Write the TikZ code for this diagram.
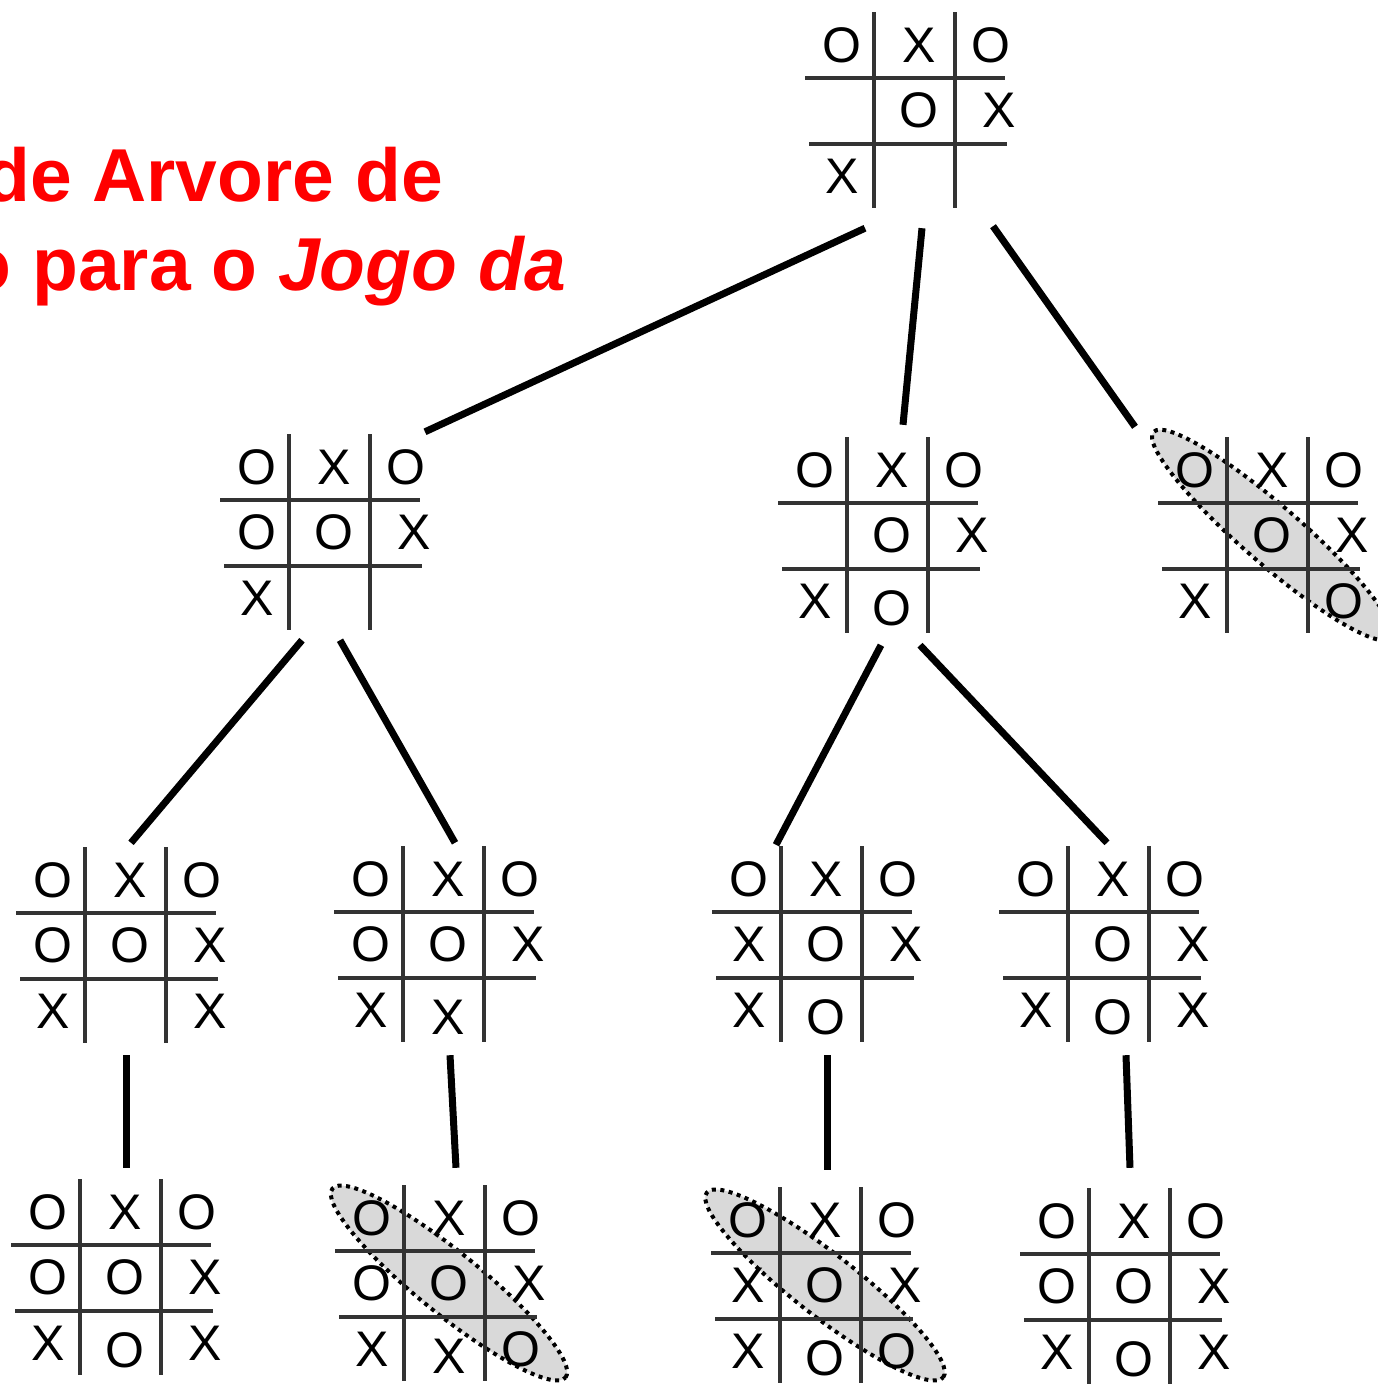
\documentclass[tikz,border=0pt]{standalone}
\usepackage{fontspec}
\setmainfont{Liberation Sans}
\usetikzlibrary{shapes.geometric}

% one board: #1 name, #2 x of left grid line, #3 y of top grid line, #4 marks (mark/col/row)
\newcommand{\tttboard}[4]{%
  \node[boardbox] (#1) at (#2+31,#3+32) {};
  \draw[gridline] (#2,#3-66) -- (#2,#3+130);
  \draw[gridline] (#2+81,#3-66) -- (#2+81,#3+130);
  \draw[gridline] (#2-69,#3) -- (#2+131,#3);
  \draw[gridline] (#2-65,#3+66) -- (#2+133,#3+66);
  \foreach \mk/\col/\row in {#4} {
    \pgfmathsetmacro\dx{{-32,45,117}[\col-1]}
    \pgfmathsetmacro\dy{{-33,32,98}[\row-1]+7*(\col==2)*(\row==3)}
    \def\ex{0}\if\mk X\ifnum\col=3 \def\ex{8}\fi\fi
    \node[cellmark] (#1-\col\row) at ({#2+\dx+\ex},{#3+\dy}) {\mk};
  }
}

\begin{document}
\begin{tikzpicture}[
    x=1pt, y=-1pt,
    gridline/.style={line width=3.4pt, black!80},
    cellmark/.style={inner sep=0pt, font=\fontsize{50}{50}\selectfont},
    boardbox/.style={rectangle, inner sep=0pt, minimum width=200pt, minimum height=196pt},
    treeline/.style={line width=7pt},
    hilite/.style={ellipse, draw, fill=black!15, line width=4pt, dash pattern=on 4pt off 4.5pt, inner sep=0pt},
    title/.style={inner sep=0pt, text=red, font=\fontsize{75}{80}\selectfont\bfseries}
]
\useasboundingbox (0,0) rectangle (1378,1384);

% Title
\node[title, anchor=base east] (title1) at (443,201) {de Arvore de};
\node[title, anchor=base east] (title2) at (566,290) {o para o \textit{Jogo da}};

% Winning lines
\node[hilite, minimum width=314pt, minimum height=58pt, rotate=-41] (win1) at (1272,535) {};
\node[hilite, minimum width=300pt, minimum height=62pt, rotate=-39] (win2) at (449,1283) {};
\node[hilite, minimum width=300pt, minimum height=62pt, rotate=-38] (win3) at (825,1285) {};

% Boards
\tttboard{root}{874}{78}{O/1/1, X/2/1, O/3/1, O/2/2, X/3/2, X/1/3}
\tttboard{left}{289}{500}{O/1/1, X/2/1, O/3/1, O/1/2, O/2/2, X/3/2, X/1/3}
\tttboard{mid}{847}{503}{O/1/1, X/2/1, O/3/1, O/2/2, X/3/2, X/1/3, O/2/3}
\tttboard{right}{1227}{503}{O/1/1, X/2/1, O/3/1, O/2/2, X/3/2, X/1/3, O/3/3}
\tttboard{leftA}{85}{913}{O/1/1, X/2/1, O/3/1, O/1/2, O/2/2, X/3/2, X/1/3, X/3/3}
\tttboard{leftB}{403}{912}{O/1/1, X/2/1, O/3/1, O/1/2, O/2/2, X/3/2, X/1/3, X/2/3}
\tttboard{midA}{781}{912}{O/1/1, X/2/1, O/3/1, X/1/2, O/2/2, X/3/2, X/1/3, O/2/3}
\tttboard{midB}{1068}{912}{O/1/1, X/2/1, O/3/1, O/2/2, X/3/2, X/1/3, O/2/3, X/3/3}
\tttboard{leftAend}{80}{1245}{O/1/1, X/2/1, O/3/1, O/1/2, O/2/2, X/3/2, X/1/3, O/2/3, X/3/3}
\tttboard{leftBend}{404}{1251}{O/1/1, X/2/1, O/3/1, O/1/2, O/2/2, X/3/2, X/1/3, X/2/3, O/3/3}
\tttboard{midAend}{780}{1253}{O/1/1, X/2/1, O/3/1, X/1/2, O/2/2, X/3/2, X/1/3, O/2/3, O/3/3}
\tttboard{midBend}{1089}{1254}{O/1/1, X/2/1, O/3/1, O/1/2, O/2/2, X/3/2, X/1/3, O/2/3, X/3/3}

% Edges
\draw[treeline] ([xshift=-40pt, yshift=-20pt]root.south) -- ([xshift=105pt, yshift=2pt]left.north);
\draw[treeline] ([xshift=17pt, yshift=-20pt]root.south) -- ([xshift=25pt, yshift=12pt]mid.north);
\draw[treeline] ([xshift=88pt, yshift=-18pt]root.south) -- ([xshift=-123pt, yshift=10pt]right.north);
\draw[treeline] ([xshift=-18pt, yshift=-10pt]left.south) -- ([xshift=15pt, yshift=4pt]leftA.north);
\draw[treeline] ([xshift=20pt, yshift=-10pt]left.south) -- ([xshift=21pt, yshift=3pt]leftB.north);
\draw[treeline] ([xshift=3pt, yshift=-12pt]mid.south) -- ([xshift=-36pt, yshift=1pt]midA.north);
\draw[treeline] ([xshift=42pt, yshift=-12pt]mid.south) -- ([xshift=8pt, yshift=3pt]midB.north);
\draw[treeline] ([xshift=10pt, yshift=-12pt]leftA.south) -- ([xshift=15pt, yshift=11pt]leftAend.north);
\draw[treeline] ([xshift=16pt, yshift=-13pt]leftB.south) -- ([xshift=21pt, yshift=17pt]leftBend.north);
\draw[treeline] ([xshift=15pt, yshift=-13pt]midA.south) -- ([xshift=16pt, yshift=17pt]midAend.north);
\draw[treeline] ([xshift=27pt, yshift=-13pt]midB.south) -- ([xshift=10pt, yshift=20pt]midBend.north);

\end{tikzpicture}
\end{document}
